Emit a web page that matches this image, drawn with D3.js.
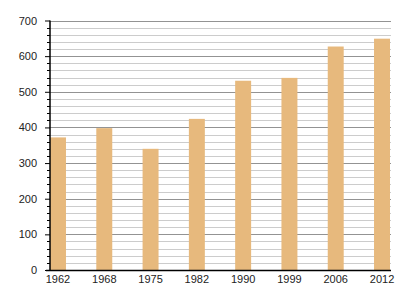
<!DOCTYPE html>
<html><head><meta charset="utf-8">
<script src="https://cdn.jsdelivr.net/npm/d3@7"></script>
<style>body{margin:0;background:#fff}svg{display:block}text{font-family:"Liberation Sans",Arial,sans-serif;font-size:11px;fill:#222}</style>
</head><body>
<script>
const years = ["1962","1968","1975","1982","1990","1999","2006","2012"];
const values = [372, 398, 340, 424, 531, 539, 627, 649];
const yTicks = [0,100,200,300,400,500,600,700];

const W=400,H=300, L=50, R=391, T=20.5, B=270;
const svg=d3.select("body").append("svg").attr("width",W).attr("height",H);
const y=d3.scaleLinear().domain([0,700]).range([B,T]);
const x=d3.scaleBand().domain(years).range([L,390]).paddingInner(0.655).paddingOuter(0);

const minor=d3.range(0,701,20);
svg.append("g").selectAll("line").data(minor.filter(v=>v%100!==0)).join("line")
  .attr("x1",L).attr("x2",R).attr("y1",d=>Math.round(y(d))+0.5).attr("y2",d=>Math.round(y(d))+0.5)
  .attr("stroke","#cccccc").attr("stroke-width",1);
svg.append("g").selectAll("line").data(yTicks.filter(v=>v>0)).join("line")
  .attr("x1",L).attr("x2",R).attr("y1",d=>Math.round(y(d))+0.5).attr("y2",d=>Math.round(y(d))+0.5)
  .attr("stroke","#939393").attr("stroke-width",1);

svg.append("g").selectAll("rect").data(values).join("rect")
  .attr("x",(d,i)=>x(years[i])).attr("width",x.bandwidth())
  .attr("y",d=>y(d)).attr("height",d=>B-y(d)).attr("fill","#e7b97d");

// y axis
const ya=svg.append("g").attr("transform",`translate(${L},0)`)
  .call(d3.axisLeft(y).tickValues(yTicks).tickSize(5).tickPadding(8).tickFormat(d3.format("d")));
ya.select(".domain").remove();
ya.selectAll("text").style("font-size","11px").attr("fill","#222");
svg.append("g").selectAll("line").data(minor.filter(v=>v%100!==0)).join("line")
  .attr("x1",L-3).attr("x2",L).attr("y1",d=>Math.round(y(d))+0.5).attr("y2",d=>Math.round(y(d))+0.5)
  .attr("stroke","#000");
svg.append("line").attr("x1",L).attr("x2",L).attr("y1",T).attr("y2",B+1).attr("stroke","#000").attr("stroke-width",1.5);

// x axis
const xa=svg.append("g").attr("transform",`translate(0,${B})`)
  .call(d3.axisBottom(x).tickSize(0).tickPadding(5));
xa.select(".domain").remove();
xa.selectAll("text").style("font-size","11px").attr("fill","#222");
svg.append("line").attr("x1",L-4).attr("x2",R).attr("y1",B+0.5).attr("y2",B+0.5).attr("stroke","#000").attr("stroke-width",1.5);
</script>
</body></html>
